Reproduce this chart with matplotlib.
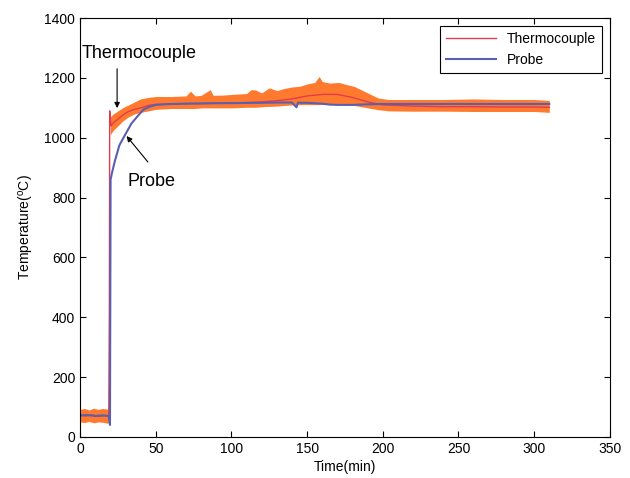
import matplotlib
matplotlib.use("Agg")
import matplotlib.pyplot as plt

plt.rcParams["font.family"] = ["Liberation Sans", "DejaVu Sans"]
plt.rcParams["mathtext.default"] = "regular"

# thermocouple: smoothed centre line
tc_t = [0, 4, 8, 12, 16, 19, 19.4, 19.6, 20.5, 22, 25, 28, 32, 36, 40, 45, 50, 60, 70, 80,
        90, 100, 110, 120, 130, 140, 150, 160, 170, 180, 190, 200, 220, 240, 260, 280, 300, 310]
tc_mid = [72, 70, 73, 69, 71, 70, 430, 1090, 1040, 1050, 1062, 1075, 1088, 1095, 1100, 1108,
          1112, 1113, 1115, 1114, 1116, 1117, 1118, 1120, 1124, 1130, 1140, 1145, 1145, 1135,
          1120, 1110, 1106, 1104, 1104, 1103, 1103, 1102]

# thermocouple noise envelope, before and after the jump
pre_t = [0, 3, 6, 9, 12, 15, 18, 19.3]
pre_hi = [92, 95, 90, 96, 92, 95, 93, 90]
pre_lo = [50, 48, 52, 47, 50, 49, 46, 48]

band_t = [20, 22, 25, 28, 32, 36, 40, 45, 50, 60, 70, 73, 76, 80, 86, 88, 95, 100, 110, 113,
          116, 120, 125, 130, 135, 140, 145, 150, 155, 158, 160, 165, 171, 176, 181, 186, 190,
          197, 204, 220, 240, 260, 280, 300, 310]
band_hi = [1070, 1080, 1090, 1100, 1110, 1120, 1130, 1135, 1138, 1138, 1140, 1156, 1140, 1142,
           1161, 1142, 1143, 1145, 1148, 1161, 1160, 1150, 1167, 1158, 1165, 1170, 1172, 1180,
           1185, 1205, 1188, 1183, 1185, 1178, 1172, 1160, 1150, 1133, 1128, 1128, 1128, 1130,
           1128, 1128, 1125]
band_lo = [1010, 1025, 1040, 1055, 1070, 1080, 1085, 1090, 1095, 1098, 1098, 1098, 1098, 1100,
           1100, 1100, 1100, 1100, 1102, 1102, 1102, 1104, 1105, 1106, 1108, 1110, 1111, 1111,
           1111, 1111, 1112, 1112, 1111, 1110, 1108, 1104, 1100, 1094, 1090, 1089, 1089, 1088,
           1088, 1088, 1085]

# probe
pr_t = [0, 5, 10, 15, 19, 19.8, 20.2, 21, 23, 26, 30, 34, 38, 42, 46, 50, 60, 80, 100, 120,
        130, 140, 143, 144, 146, 150, 160, 165, 170, 180, 185, 190, 200, 220, 250, 280, 310]
pr_v = [72, 73, 70, 72, 70, 40, 860, 880, 922, 975, 1012, 1048, 1072, 1095, 1104, 1110, 1113,
        1115, 1116, 1117, 1118, 1118, 1102, 1118, 1117, 1117, 1114, 1111, 1110, 1110, 1111,
        1112, 1113, 1113, 1113, 1113, 1113]

RED = "#e03c50"
ORANGE = "#ff7a2e"
BLUE = "#5a5fb0"

fig = plt.figure(figsize=(6.3, 4.78), dpi=100)
ax = fig.add_axes([0.127, 0.086, 0.841, 0.876])

ax.fill_between(pre_t, pre_lo, pre_hi, color=ORANGE, lw=0)
ax.fill_between(band_t, band_lo, band_hi, color=ORANGE, lw=0)
ax.plot(tc_t, tc_mid, color=RED, lw=1.0, label="Thermocouple")
ax.plot(pr_t, pr_v, color=BLUE, lw=1.5, label="Probe")

ax.set_xlim(0, 350)
ax.set_ylim(0, 1400)
ax.set_xticks(range(0, 351, 50))
ax.set_yticks(range(0, 1401, 200))
ax.tick_params(direction="in", top=True, right=True, labelsize=10, length=4)
ax.set_xlabel("Time(min)", fontsize=10, labelpad=3)
ax.set_ylabel("Temperature($^o$C)", fontsize=10, labelpad=6)

ax.annotate("", xy=(24.5, 1090), xytext=(24.5, 1240),
            arrowprops=dict(arrowstyle="-|>", color="black", lw=0.8, mutation_scale=8))
ax.text(1.3, 1282, "Thermocouple", fontsize=13, va="center", ha="left")
ax.annotate("", xy=(29.6, 1013), xytext=(46, 912),
            arrowprops=dict(arrowstyle="-|>", color="black", lw=0.8, mutation_scale=8))
ax.text(31.6, 855, "Probe", fontsize=13, va="center", ha="left")

leg = ax.legend(loc="upper right", fontsize=10, fancybox=False, framealpha=1,
                edgecolor="black", handlelength=3.6, borderaxespad=0.6)
leg.get_frame().set_linewidth(0.8)

fig.savefig("out.png", dpi=100)
